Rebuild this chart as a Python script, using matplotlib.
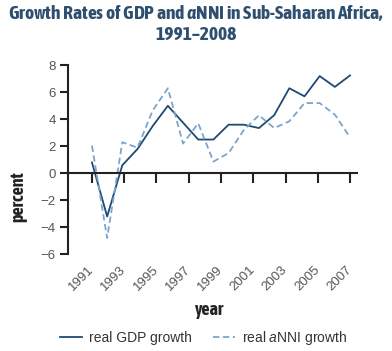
import matplotlib
matplotlib.use("Agg")
import matplotlib.pyplot as plt
from matplotlib import font_manager
import numpy as np

years = list(range(1991, 2009))
gdp = [0.8, -3.2, 0.6, 1.8, 3.5, 5.0, 3.75, 2.5, 2.5, 3.6, 3.6, 3.35, 4.3, 6.3, 5.7, 7.2, 6.4, 7.25]
anni = [2.05, -4.8, 2.3, 1.9, 4.65, 6.3, 2.2, 3.7, 0.87, 1.5, 3.2, 4.3, 3.35, 3.85, 5.2, 5.2, 4.35, 2.65]
tick_labels = ["1991", "1993", "1995", "1997", "1999", "2001", "2003", "2005", "2007"]
y_ticks = [-6, -4, -2, 0, 2, 4, 6, 8]

names = {f.name for f in font_manager.fontManager.ttflist}
cond = "Asap Condensed" if "Asap Condensed" in names else "Liberation Sans"
body = "Liberation Sans"

plt.rcParams['font.family'] = [body, 'DejaVu Sans']
plt.rcParams['mathtext.fontset'] = 'custom'
plt.rcParams['mathtext.it'] = f'{body}:italic'
plt.rcParams['mathtext.bf'] = f'{cond}:italic:bold'
plt.rcParams['mathtext.rm'] = body

fig = plt.figure(figsize=(3.92, 3.51), dpi=100)
ax = fig.add_axes([0.1742, 0.2755, 0.7358, 0.5385])

x = np.arange(len(years))
ax.plot(x, gdp, color='#1f4a73', lw=1.3, label='real GDP growth', clip_on=False)
ax.plot(x, anni, color='#7ba5cc', lw=1.3, dashes=(3.5, 2), label='real $\\mathit{a}$NNI growth', clip_on=False)

ax.set_xlim(-1.56, 17.44)
ax.set_ylim(-6, 8)
ax.set_yticks(y_ticks)
ax.set_yticklabels([("\u2212" + str(-v)) if v < 0 else str(v) for v in y_ticks])

tick_pos = np.linspace(0, len(years) - 1, len(tick_labels))
ax.set_xticks(tick_pos)
ax.tick_params(axis='x', labelbottom=False, direction='out', length=7, width=1.5, color='#222222')
ax.tick_params(axis='y', direction='out', length=6, width=1.5, color='#222222', labelsize=9.5,
               labelcolor='#555555', pad=3)

for s in ['top', 'right']:
    ax.spines[s].set_visible(False)
ax.spines['bottom'].set_position(('data', 0))
ax.spines['bottom'].set_color('#222222')
ax.spines['bottom'].set_linewidth(1.5)
ax.spines['left'].set_color('#222222')
ax.spines['left'].set_linewidth(1.5)

sec = ax.secondary_xaxis('bottom')
sec.set_xticks(tick_pos)
sec.set_xticklabels(tick_labels)
sec.spines['bottom'].set_visible(False)
sec.tick_params(length=0, pad=10, labelsize=9.5, labelcolor='#555555')
for lab in sec.get_xticklabels():
    lab.set_rotation(45)
    lab.set_ha('right')
    lab.set_va('center')
    lab.set_rotation_mode('anchor')

fig.text(0.046, 0.44, 'percent', rotation=90, ha='center', va='center',
         fontsize=13, fontweight='bold', family=[cond, 'DejaVu Sans'], color='#222222')
fig.text(0.535, 0.116, 'year', ha='center', va='center',
         fontsize=13, fontweight='bold', family=[cond, 'DejaVu Sans'], color='#222222')

title_color = '#2f4f70'
fig.text(0.5, 0.962, 'Growth Rates of GDP and $\\mathbf{a}$NNI in Sub-Saharan Africa,',
         ha='center', va='center', fontsize=14, fontweight='bold',
         family=[cond, 'DejaVu Sans'], color=title_color)
fig.text(0.5, 0.900, '1991\u20132008', ha='center', va='center', fontsize=14, fontweight='bold',
         family=[cond, 'DejaVu Sans'], color=title_color)

fig.legend(loc='center', bbox_to_anchor=(0.52, 0.038), ncol=2, frameon=False,
           fontsize=10, handlelength=1.6, handletextpad=0.5, columnspacing=1.5,
           labelcolor='#333333')

fig.savefig('out.png', dpi=100)
